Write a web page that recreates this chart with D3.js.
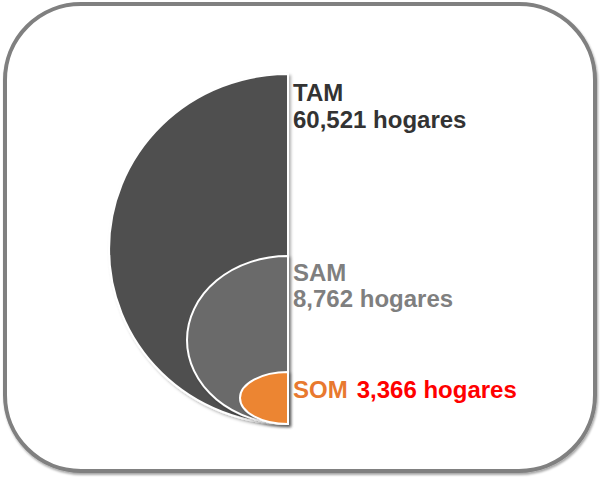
<!DOCTYPE html>
<html><head><meta charset="utf-8">
<script src="https://cdn.jsdelivr.net/npm/d3@7"></script>
<style>html,body{margin:0;padding:0;background:#fff;}svg{display:block;}</style>
</head><body>
<script>
const categories = ["TAM", "SAM", "SOM"];
const values = [60521, 8762, 3366];
const valueLabels = ["60,521 hogares", "8,762 hogares", "3,366 hogares"];

const W = 601, H = 477;
const svg = d3.select("body").append("svg").attr("width", W).attr("height", H);
const defs = svg.append("defs");
const f = defs.append("filter").attr("id", "sh").attr("x", "-20%").attr("y", "-20%").attr("width", "140%").attr("height", "140%");
f.append("feDropShadow").attr("dx", 2).attr("dy", 2).attr("stdDeviation", 1.5).attr("flood-color", "#000").attr("flood-opacity", 0.3);
const f2 = defs.append("filter").attr("id", "bsh").attr("x", "-5%").attr("y", "-5%").attr("width", "110%").attr("height", "110%");
f2.append("feDropShadow").attr("dx", 1).attr("dy", 2).attr("stdDeviation", 1).attr("flood-color", "#000").attr("flood-opacity", 0.35);

// frame
svg.append("rect").attr("x", 5).attr("y", 4).attr("width", 590).attr("height", 467)
  .attr("rx", 76).attr("ry", 76).attr("fill", "#fff").attr("stroke", "#808080").attr("stroke-width", 4)
  .attr("filter", "url(#bsh)");

// scales: value -> half-ellipse radii (diagram, not strictly proportional)
const ryScale = d3.scaleLinear().domain(values).range([175, 84, 26]);
const rxScale = d3.scaleLinear().domain(values).range([179, 101, 48]);
const cx = 288, baseY = 424;
const fills = ["#505050", "#6b6b6b", "#ec8532"];

const g = svg.append("g");
categories.forEach((c, i) => {
  const rx = rxScale(values[i]), ry = ryScale(values[i]);
  const cy = baseY - ry;
  g.append("path")
    .attr("d", `M${cx},${cy - ry} A${rx},${ry} 0 0 0 ${cx},${cy + ry} Z`)
    .attr("fill", fills[i]).attr("stroke", "#fff").attr("stroke-width", 2)
    .attr("filter", "url(#sh)");
});

const font = "'Liberation Sans', Arial, sans-serif";
const fs = 24;
const tx = 293;
function label(y, str, color) {
  return svg.append("text").attr("x", tx).attr("y", y).text(str)
    .attr("font-family", font).attr("font-weight", "bold").attr("font-size", fs).attr("fill", color);
}
label(101, categories[0], "#333");
label(128, valueLabels[0], "#333");
label(281, categories[1], "#7f7f7f");
label(307, valueLabels[1], "#7f7f7f");
const t = svg.append("text").attr("x", tx).attr("y", 398)
  .attr("font-family", font).attr("font-weight", "bold").attr("font-size", fs);
t.append("tspan").text(categories[2]).attr("fill", "#e8792f");
t.append("tspan").text(valueLabels[2]).attr("dx", 9).attr("fill", "#ff0000");
</script>
</body></html>
